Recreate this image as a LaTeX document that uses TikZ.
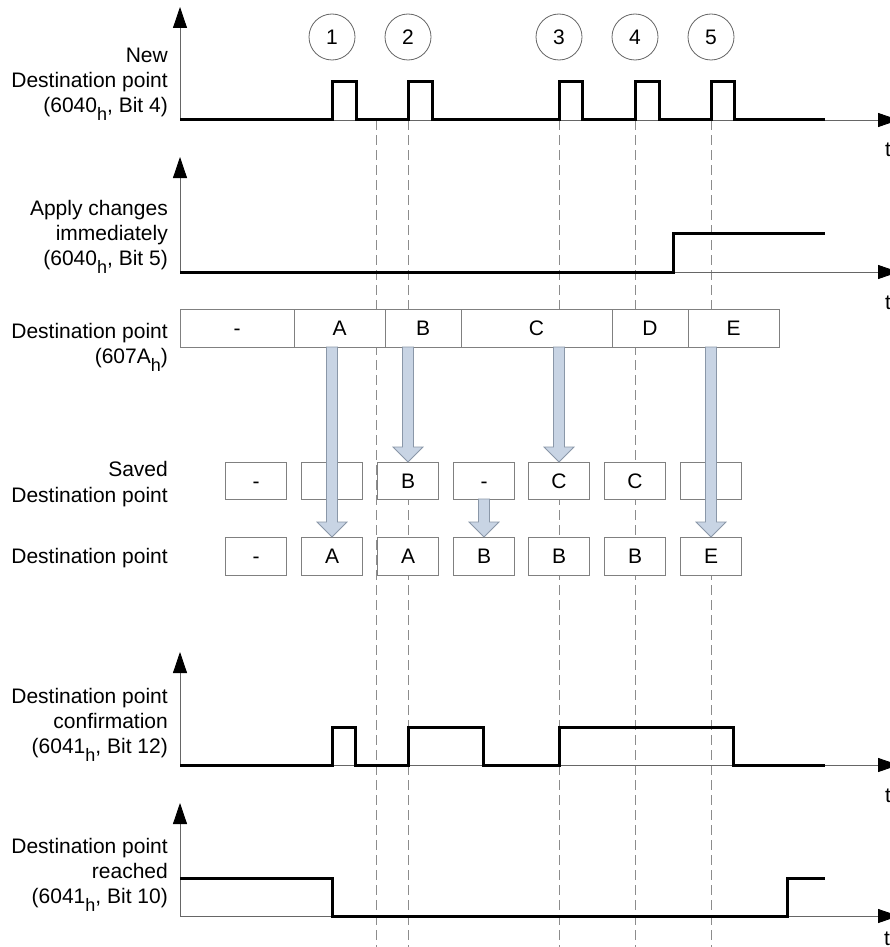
\documentclass[tikz,border=0pt]{standalone}
\usepackage{fontspec}
\setmainfont{Liberation Sans}
\usetikzlibrary{arrows.meta,calc}
\definecolor{arrfill}{HTML}{C8D4E4}
\definecolor{arrdraw}{HTML}{8A97A8}
\newcommand\hs{\raisebox{-8pt}{\fontsize{18}{18}\selectfont h}}
\newcommand\fatarrow[2]{\path[fatarr] let \p1=(#1), \p2=(#2) in
  (\x2-5.5pt,\y1) -- (\x2-5.5pt,\y2+15pt) -- (\x2-15pt,\y2+15pt) -- (\x2,\y2)
  -- (\x2+15pt,\y2+15pt) -- (\x2+5.5pt,\y2+15pt) -- (\x2+5.5pt,\y1) -- cycle;}
\begin{document}
\begin{tikzpicture}[x=1pt,y=-1pt,
  font=\fontsize{21}{25}\selectfont,
  lab/.style={anchor=base east, inner sep=0pt},
  tlab/.style={anchor=base west, inner sep=0pt},
  axis/.style={draw=black!60, line width=0.8pt, -{Triangle[length=21pt,width=14pt,color=black]}},
  sig/.style={draw=black, line width=3pt, line join=miter},
  guide/.style={draw=black!45, line width=0.8pt, dash pattern=on 10pt off 5pt},
  num/.style={circle, draw=black!60, line width=0.8pt, minimum size=46pt, inner sep=0pt},
  cell/.style={draw=black!50, fill=white, line width=0.8pt, inner sep=0pt, outer sep=0pt,
    text height=15pt, text depth=0pt},
  tcell/.style={cell, minimum height=38pt},
  scell/.style={cell, minimum height=37pt, minimum width=61pt},
  fatarr/.style={fill=arrfill, draw=arrdraw, line width=0.8pt, line join=miter}
]
\useasboundingbox (0,0) rectangle (890,947);
\fill[white] (0,0) rectangle (890,947);

% guide lines
\foreach \gx in {376,408,559,635,711}
  \draw[guide] (\gx,120) -- (\gx,947);

% event circles
\node[num] (c1) at (332,37) {1};
\node[num] (c2) at (408,37) {2};
\node[num] (c3) at (559,37) {3};
\node[num] (c4) at (635,37) {4};
\node[num] (c5) at (711,37) {5};

% ---- chart 1
\node[lab] (l1a) at (168,63) {New};
\node[lab] (l1b) at (168,88) {Destination point};
\node[lab] (l1c) at (168,113) {(6040\hs, Bit 4)};
\draw[axis] (180,120) -- (899,120);
\draw[axis] (180,120) -- (180,7);
\draw[sig] (180,120) -- (332,120) -- (332,82) -- (356,82) -- (356,120)
  -- (408,120) -- (408,82) -- (432,82) -- (432,120)
  -- (559,120) -- (559,82) -- (582,82) -- (582,120)
  -- (635,120) -- (635,82) -- (659,82) -- (659,120)
  -- (711,120) -- (711,82) -- (734,82) -- (734,120) -- (825,120);
\node[tlab] (t1) at (885,157) {t};

% ---- chart 2
\node[lab] (l2a) at (168,215) {Apply changes};
\node[lab] (l2b) at (168,240) {immediately};
\node[lab] (l2c) at (168,265) {(6040\hs, Bit 5)};
\draw[axis] (180,272) -- (899,272);
\draw[axis] (180,272) -- (180,157);
\draw[sig] (180,272) -- (673,272) -- (673,233) -- (825,233);
\node[tlab] (t2) at (885,309) {t};

% ---- Destination point (607A) row
\node[lab] (l3a) at (168,338) {Destination point};
\node[lab] (l3b) at (168,363) {(607A\hs)};
\node[tcell, minimum width=114pt] (a0) at (237,328) {-};
\node[tcell, minimum width=91pt] (a1) at (339.5,328) {A};
\node[tcell, minimum width=76pt] (a2) at (423,328) {B};
\node[tcell, minimum width=151pt] (a3) at (536.5,328) {C};
\node[tcell, minimum width=76pt] (a4) at (650,328) {D};
\node[tcell, minimum width=91pt] (a5) at (733.5,328) {E};

% ---- Saved destination point row
\node[lab] (l4a) at (168,476) {Saved};
\node[lab] (l4b) at (168,502) {Destination point};
\node[scell] (s1) at (256,480.5) {-};
\node[scell] (s2) at (332,480.5) {};
\node[scell] (s3) at (408,480.5) {B};
\node[scell] (s4) at (484,480.5) {-};
\node[scell] (s5) at (559,480.5) {C};
\node[scell] (s6) at (635,480.5) {C};
\node[scell] (s7) at (711,480.5) {};

% ---- Destination point row
\node[lab] (l5a) at (168,563) {Destination point};
\node[scell, minimum height=38pt] (d1) at (256,556) {-};
\node[scell, minimum height=38pt] (d2) at (332,556) {A};
\node[scell, minimum height=38pt] (d3) at (408,556) {A};
\node[scell, minimum height=38pt] (d4) at (484,556) {B};
\node[scell, minimum height=38pt] (d5) at (559,556) {B};
\node[scell, minimum height=38pt] (d6) at (635,556) {B};
\node[scell, minimum height=38pt] (d7) at (711,556) {E};

% transfer arrows
\fatarrow{a1.south}{d2.north}
\fatarrow{a2.south}{s3.north}
\fatarrow{a3.south}{s5.north}
\fatarrow{s4.south}{d4.north}
\fatarrow{a5.south}{d7.north}

% ---- chart 3
\node[lab] (l6a) at (168,703) {Destination point};
\node[lab] (l6b) at (168,728) {confirmation};
\node[lab] (l6c) at (168,753) {(6041\hs, Bit 12)};
\draw[axis] (180,765) -- (899,765);
\draw[axis] (180,765) -- (180,652);
\draw[sig] (180,765) -- (332,765) -- (332,727) -- (355,727) -- (355,765)
  -- (408,765) -- (408,727) -- (483,727) -- (483,765)
  -- (559,765) -- (559,727) -- (733,727) -- (733,765) -- (825,765);
\node[tlab] (t3) at (885,802) {t};

% ---- chart 4
\node[lab] (l7a) at (168,853) {Destination point};
\node[lab] (l7b) at (168,878) {reached};
\node[lab] (l7c) at (168,903) {(6041\hs, Bit 10)};
\draw[axis] (180,916) -- (899,916);
\draw[axis] (180,916) -- (180,803);
\draw[sig] (180,878) -- (332,878) -- (332,916) -- (787,916) -- (787,878) -- (825,878);
\node[tlab] (t4) at (884,945) {t};
\end{tikzpicture}
\end{document}
